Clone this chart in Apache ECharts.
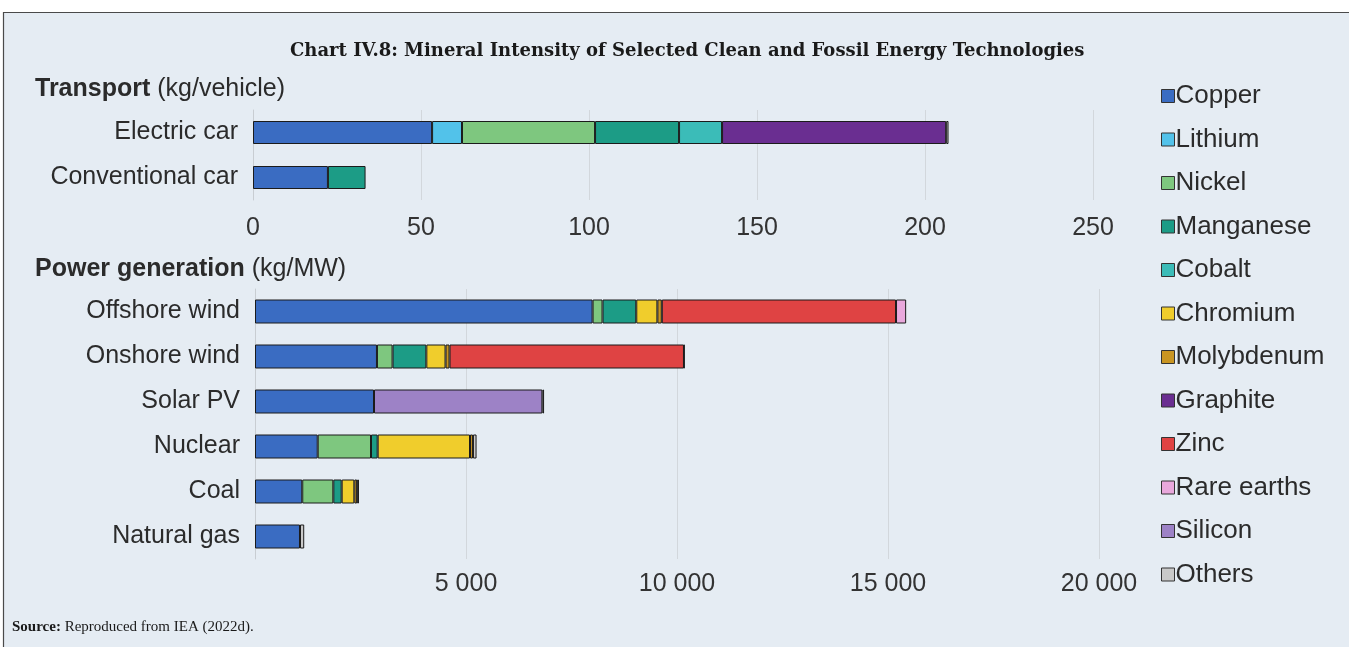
<!DOCTYPE html>
<html>
<head>
<meta charset="utf-8">
<script src="https://cdn.jsdelivr.net/npm/echarts@6/dist/echarts.min.js"></script>
<style>
html,body{margin:0;padding:0;background:#ffffff;}
#chart{width:1349px;height:647px;}
</style>
</head>
<body>
<div id="chart"></div>
<script>
const minerals = ['Copper','Lithium','Nickel','Manganese','Cobalt','Chromium','Molybdenum','Graphite','Zinc','Rare earths','Silicon','Others'];
const mineralColors = ['#3a6cc2','#52c2ea','#7ec77f','#1c9c86','#3bbcb8','#f0cd2c','#c99522','#6a2e91','#df4343','#e9a8dc','#9d82c6','#c9c9c9'];

const transportCats = ['Electric car','Conventional car'];
// kg/vehicle, order follows minerals
const electricCar     = [53.3, 8.9, 39.6, 25.0, 12.8, 0, 0, 66.7, 0, 0, 0, 0.7];
const conventionalCar = [22.3, 0, 0, 11.2, 0, 0, 0, 0, 0, 0, 0, 0];

const powerCats = ['Offshore wind','Onshore wind','Solar PV','Nuclear','Coal','Natural gas'];
// kg/MW, order follows minerals
const offshoreWind = [8000, 0, 235, 800, 0, 500, 105, 0, 5550, 240, 0, 0];
const onshoreWind  = [2890, 0, 370, 800, 0, 455, 95, 0, 5555, 14, 0, 0];
const solarPV      = [2820, 0, 0, 0, 0, 0, 0, 0, 0, 0, 3990, 40];
const nuclear      = [1486, 0, 1263, 158, 0, 2188, 70, 0, 0, 0, 0, 85];
const coal         = [1120, 0, 736, 198, 0, 300, 66, 0, 0, 0, 0, 44];
const naturalGas   = [1066, 0, 0, 0, 0, 0, 0, 0, 0, 0, 0, 100];

const transportTicks = [0, 50, 100, 150, 200, 250];
const powerTicks = [0, 5000, 10000, 15000, 20000];

const transportRows = [electricCar, conventionalCar];
const powerRows = [offshoreWind, onshoreWind, solarPV, nuclear, coal, naturalGas];

const chart = echarts.init(document.getElementById('chart'));
const txt = '#2b2b2b';
const font = '"Liberation Sans", Arial, sans-serif';
const serif = '"Liberation Serif", "DejaVu Serif", serif';
const titleSerif = '"DejaVu Serif", "Liberation Serif", serif';

const series = [];
minerals.forEach((m, i) => {
  const style = {color: mineralColors[i], borderColor: '#1b1b1b', borderWidth: 1};
  series.push({
    name: m, type: 'bar', stack: 't', xAxisIndex: 0, yAxisIndex: 0, barWidth: 23,
    itemStyle: style,
    data: transportRows.map(r => r[i] === 0 ? null : r[i])
  });
  series.push({
    name: m, type: 'bar', stack: 'p', xAxisIndex: 1, yAxisIndex: 1, barWidth: 24,
    itemStyle: style,
    data: powerRows.map(r => r[i] === 0 ? null : r[i])
  });
});

const fmtPower = v => v === 0 ? '' : String(v).replace(/\B(?=(\d{3})+(?!\d))/g, ' ');

chart.setOption({
  animation: false,
  backgroundColor: '#ffffff',
  color: mineralColors,
  graphic: [
    {type: 'rect', z: -10, shape: {x: 3.5, y: 12.5, width: 1360, height: 660},
     style: {fill: '#e5ecf3', stroke: '#4a4a4a', lineWidth: 1.2}},
    {type: 'text', left: 290, top: 42,
     style: {text: 'Chart IV.8: Mineral Intensity of Selected Clean and Fossil Energy Technologies',
             font: 'bold 18px ' + titleSerif, fill: '#1a1a1a'}},
    {type: 'text', left: 35, top: 77,
     style: {text: '{b|Transport} (kg/vehicle)', font: '25px ' + font, fill: txt,
             rich: {b: {fontWeight: 'bold', fontSize: 25, fontFamily: font, fill: txt}}}},
    {type: 'text', left: 35, top: 257,
     style: {text: '{b|Power generation} (kg/MW)', font: '25px ' + font, fill: txt,
             rich: {b: {fontWeight: 'bold', fontSize: 25, fontFamily: font, fill: txt}}}},
    {type: 'text', left: 12, top: 620,
     style: {text: '{b|Source:} Reproduced from IEA (2022d).', font: '15px ' + serif, fill: '#1a1a1a',
             rich: {b: {fontWeight: 'bold', fontSize: 15, fontFamily: serif, fill: '#1a1a1a'}}}}
  ],
  legend: {
    orient: 'vertical', left: 1156, top: 78,
    data: minerals, icon: 'rect', itemWidth: 13, itemHeight: 13, itemGap: 17.5,
    itemStyle: {borderColor: '#333', borderWidth: 1},
    textStyle: {fontSize: 26, fontFamily: font, color: txt, padding: [0,0,0,-4], lineHeight: 26}
  },
  grid: [
    {left: 253, right: 256, top: 110, height: 90},
    {left: 255, right: 250, top: 289, height: 270}
  ],
  xAxis: [
    {type: 'value', gridIndex: 0, min: transportTicks[0], max: transportTicks[transportTicks.length-1], interval: 50,
     axisLine: {show: false}, axisTick: {show: false},
     splitLine: {show: true, lineStyle: {color: '#d2d7dc'}},
     axisLabel: {fontSize: 25, fontFamily: font, color: '#333', margin: 16}},
    {type: 'value', gridIndex: 1, min: powerTicks[0], max: powerTicks[powerTicks.length-1], interval: 5000,
     axisLine: {show: false}, axisTick: {show: false},
     splitLine: {show: true, lineStyle: {color: '#d2d7dc'}},
     axisLabel: {fontSize: 25, fontFamily: font, color: '#333', margin: 13, formatter: fmtPower}}
  ],
  yAxis: [
    {type: 'category', gridIndex: 0, data: transportCats, inverse: true,
     axisLine: {show: true, lineStyle: {color: '#c8cdd2'}}, axisTick: {show: false},
     axisLabel: {fontSize: 25, fontFamily: font, color: txt, margin: 15}},
    {type: 'category', gridIndex: 1, data: powerCats, inverse: true,
     axisLine: {show: true, lineStyle: {color: '#c8cdd2'}}, axisTick: {show: false},
     axisLabel: {fontSize: 25, fontFamily: font, color: txt, margin: 15}}
  ],
  series: series
});
</script>
</body>
</html>
